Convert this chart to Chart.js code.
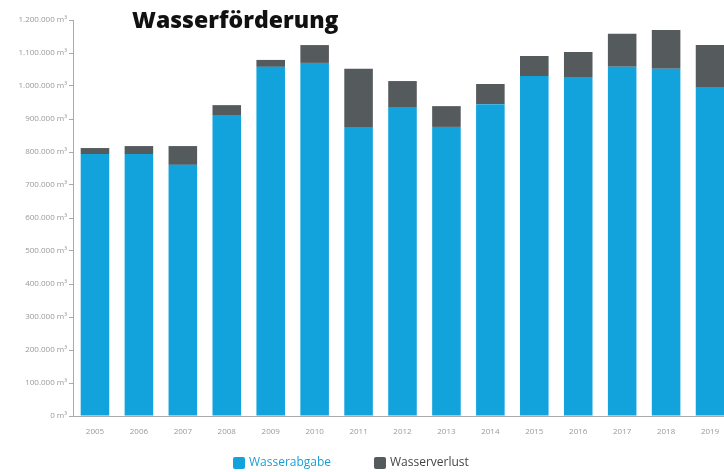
<!DOCTYPE html>
<html>
<head>
<meta charset="utf-8">
<script src="https://cdn.jsdelivr.net/npm/chart.js@4"></script>
<style>
  html, body { margin: 0; padding: 0; background: #fff; overflow: hidden; }
  #wrap { position: relative; width: 740px; height: 472px; }
  #titel { position: absolute; left: 132px; top: 3px; font: 800 23px 'Open Sans', sans-serif; color: #111; letter-spacing: 0; }
</style>
</head>
<body>
<div id="wrap">
  <canvas id="chart-wasser" width="740" height="472"></canvas>
  <div id="titel">Wasserförderung</div>
</div>
<script>
const jahre = ['2005', '2006', '2007', '2008', '2009', '2010', '2011', '2012', '2013', '2014', '2015', '2016', '2017', '2018', '2019'];
const wasserabgabe = [794000, 794000, 761000, 912000, 1058000, 1070000, 876000, 936000, 876000, 945000, 1030000, 1027000, 1058000, 1052000, 997000];
const wasserverlust = [18000, 24000, 57000, 30000, 21000, 54000, 176000, 79000, 63000, 61000, 61000, 76000, 100000, 118000, 127000];
const serien = ['Wasserabgabe', 'Wasserverlust'];

function formatM3(v){
    return String(v).replace(/\B(?=(\d{3})+(?!\d))/g, '.') + ' m³';
}

// eigene Legende unten
const legendePlugin = {
    id: 'legende',
    afterDraw(chart){
        const ctx = chart.ctx;
        const items = [
            {text: serien[0], farbe: '#12a3dd', textFarbe: '#1a9fd8', x: 233},
            {text: serien[1], farbe: '#555a5c', textFarbe: '#444', x: 374}
        ];
        ctx.save();
        ctx.font = '12px "Open Sans", sans-serif';
        ctx.textBaseline = 'middle';
        items.forEach(function(it){
            ctx.fillStyle = it.farbe;
            ctx.beginPath();
            ctx.roundRect(it.x, 457, 12, 12, 2);
            ctx.fill();
            ctx.fillStyle = it.textFarbe;
            ctx.fillText(it.text, it.x + 16, 463);
        });
        ctx.restore();
    }
};

new Chart(document.getElementById('chart-wasser').getContext('2d'), {
    type: 'bar',
    data: {
        labels: jahre,
        datasets: [{
            label: serien[0],
            data: wasserabgabe,
            backgroundColor: '#12a3dd'
        }, {
            label: serien[1],
            data: wasserverlust,
            backgroundColor: '#555a5c'
        }]
    },
    options: {
        responsive: false,
        animation: false,
        layout: {padding: {top: 20, right: 8, left: 0, bottom: 0}},
        datasets: {bar: {categoryPercentage: 1, barPercentage: 0.65}},
        scales: {
            x: {
                stacked: true,
                afterFit: function(s){ s.height = 56; },
                grid: {display: false, drawTicks: false},
                border: {display: true, color: '#aaa'},
                ticks: {padding: 11, color: '#999', font: {size: 8, family: 'Open Sans'}}
            },
            y: {
                stacked: true,
                min: 0,
                max: 1200000,
                afterFit: function(s){ s.width = 73; },
                grid: {drawOnChartArea: false, tickLength: 4, color: '#aaa'},
                border: {display: true, color: '#aaa'},
                ticks: {
                    stepSize: 100000,
                    padding: 2,
                    color: '#999',
                    font: {size: 8, family: 'Open Sans'},
                    callback: function(v){ return formatM3(v); }
                }
            }
        },
        plugins: {
            legend: {display: false},
            tooltip: {enabled: false}
        }
    },
    plugins: [legendePlugin]
});
</script>
</body>
</html>
